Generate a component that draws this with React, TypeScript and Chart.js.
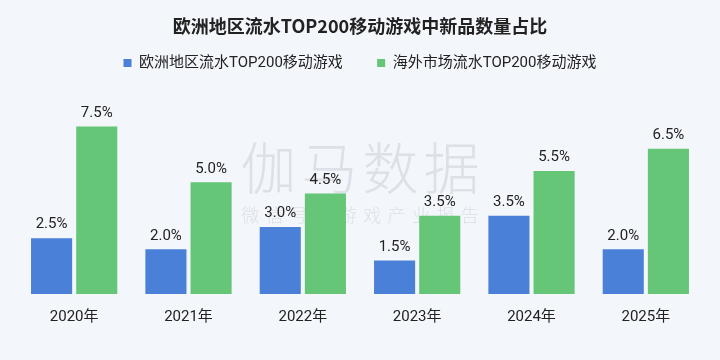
import React, { useEffect, useRef } from "react";
import { Chart, registerables } from "chart.js";

Chart.register(...registerables);

const TITLE = "欧洲地区流水TOP200移动游戏中新品数量占比";
const categories = ["2020年", "2021年", "2022年", "2023年", "2024年", "2025年"];
const seriesNames = ["欧洲地区流水TOP200移动游戏", "海外市场流水TOP200移动游戏"];
const europeValues = [2.5, 2.0, 3.0, 1.5, 3.5, 2.0];
const overseasValues = [7.5, 5.0, 4.5, 3.5, 5.5, 6.5];
const WATERMARK = "伽马数据";
const WATERMARK_SUB = "微信号：游戏产业报告";

const BG = "#f3f6fb";
const BLUE = "#4b80d8";
const GREEN = "#64c676";
const TEXT = "#222222";
const FONT = 'Roboto, "Noto Sans CJK SC", sans-serif';

const bgPlugin = {
  id: "bgFill",
  beforeDraw(chart: any) {
    const { ctx, width, height } = chart;
    ctx.save();
    ctx.fillStyle = BG;
    ctx.fillRect(0, 0, width, height);
    ctx.restore();
  },
};

const watermarkPlugin = {
  id: "watermark",
  beforeDatasetsDraw(chart: any) {
    const { ctx, chartArea } = chart;
    const cx = (chartArea.left + chartArea.right) / 2;
    ctx.save();
    ctx.fillStyle = "rgba(200,204,212,0.5)";
    ctx.textAlign = "center";
    ctx.textBaseline = "middle";
    ctx.font = '300 56px "Noto Sans CJK SC", sans-serif';
    const chars = Array.from(WATERMARK);
    const step1 = 61;
    chars.forEach((c, i) => {
      ctx.fillText(c, cx + (i - (chars.length - 1) / 2) * step1, 168);
    });
    ctx.font = '300 18px "Noto Sans CJK SC", sans-serif';
    const sub = Array.from(WATERMARK_SUB);
    const step2 = 24.4;
    sub.forEach((c, i) => {
      ctx.fillText(c, cx + (i - (sub.length - 1) / 2) * step2, 215);
    });
    ctx.restore();
  },
};

const labelPlugin = {
  id: "valueLabels",
  afterDatasetsDraw(chart: any) {
    const { ctx } = chart;
    ctx.save();
    ctx.fillStyle = TEXT;
    ctx.font = `15px ${FONT}`;
    ctx.textAlign = "center";
    ctx.textBaseline = "bottom";
    chart.data.datasets.forEach((ds: any, di: number) => {
      const meta = chart.getDatasetMeta(di);
      meta.data.forEach((el: any, i: number) => {
        const v = ds.data[i] as number;
        ctx.fillText(v.toFixed(1) + "%", el.x, el.y - 6);
      });
    });
    ctx.restore();
  },
};

export default function App() {
  const ref = useRef<HTMLCanvasElement | null>(null);

  useEffect(() => {
    if (!ref.current) return;
    const chart = new Chart(ref.current, {
      type: "bar",
      data: {
        labels: categories,
        datasets: [
          {
            label: seriesNames[0],
            data: europeValues,
            backgroundColor: BLUE,
            barPercentage: 0.91,
            categoryPercentage: 0.79,
          },
          {
            label: seriesNames[1],
            data: overseasValues,
            backgroundColor: GREEN,
            barPercentage: 0.91,
            categoryPercentage: 0.79,
          },
        ],
      },
      options: {
        responsive: true,
        maintainAspectRatio: false,
        animation: false,
        layout: { padding: { left: 17, right: 17, top: 15, bottom: 28 } },
        plugins: {
          title: {
            display: true,
            text: TITLE,
            color: TEXT,
            font: { family: '"Noto Sans CJK SC", sans-serif', size: 18, weight: "bold" },
            padding: { top: 0, bottom: 7 },
          },
          legend: {
            display: true,
            labels: {
              color: TEXT,
              font: { family: FONT, size: 15 },
              boxWidth: 8,
              boxHeight: 8,
              padding: 12,
              generateLabels(chart: any) {
                const items = Chart.defaults.plugins.legend.labels.generateLabels(chart);
                return items.map((it: any, i: number) =>
                  i < items.length - 1 ? { ...it, text: it.text + "      " } : it
                );
              },
            },
          },
          tooltip: { enabled: false },
        },
        scales: {
          x: {
            grid: { display: false },
            border: { display: false },
            ticks: { color: TEXT, font: { family: FONT, size: 15 }, padding: 6 },
          },
          y: {
            display: false,
            min: 0,
            max: 9.55,
          },
        },
      },
      plugins: [bgPlugin, watermarkPlugin, labelPlugin],
    });
    return () => chart.destroy();
  }, []);

  return (
    <div style={{ position: "fixed", left: 0, top: 0, width: 720, height: 360, background: BG }}>
      <canvas ref={ref} />
    </div>
  );
}
